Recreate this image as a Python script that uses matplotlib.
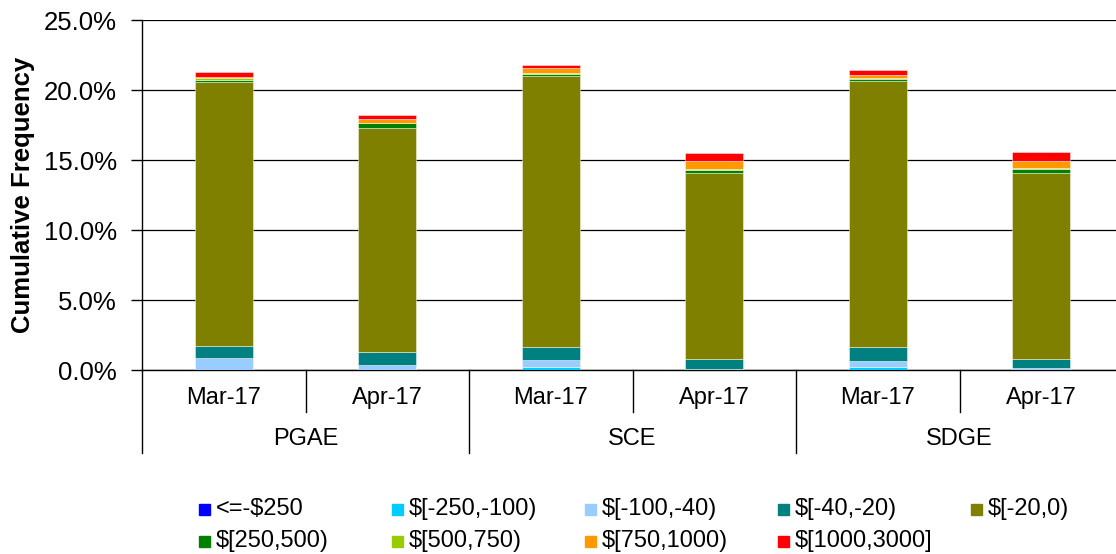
import matplotlib
matplotlib.use("Agg")
import matplotlib.pyplot as plt
from matplotlib.patches import Rectangle
from matplotlib.ticker import FuncFormatter

plt.rcParams['font.family'] = ['Liberation Sans', 'DejaVu Sans']

# categories
groups = ["PGAE", "SCE", "SDGE"]
months = ["Mar-17", "Apr-17"]
bins = ["<=-$250", "$[-250,-100)", "$[-100,-40)", "$[-40,-20)", "$[-20,0)",
        "$[250,500)", "$[500,750)", "$[750,1000)", "$[1000,3000]"]
colors = ["#0000FF", "#00CCFF", "#99CCFF", "#008080", "#808000",
          "#008000", "#99CC00", "#FF9900", "#FF0000"]

# frequency (%) per bin, one value per bar: PGAE Mar, PGAE Apr, SCE Mar, SCE Apr, SDGE Mar, SDGE Apr
le_250 = [0.00, 0.00, 0.00, 0.00, 0.00, 0.00]
m250_100 = [0.02, 0.00, 0.25, 0.00, 0.25, 0.00]
m100_40 = [0.83, 0.36, 0.43, 0.05, 0.39, 0.17]
m40_20 = [0.86, 0.90, 0.98, 0.71, 1.02, 0.59]
m20_0 = [18.86, 16.00, 19.34, 13.29, 18.96, 13.29]
p250_500 = [0.12, 0.36, 0.17, 0.26, 0.19, 0.33]
p500_750 = [0.15, 0.04, 0.08, 0.02, 0.08, 0.02]
p750_1000 = [0.12, 0.26, 0.35, 0.62, 0.16, 0.52]
p1000_3000 = [0.31, 0.33, 0.19, 0.55, 0.38, 0.62]

series = [le_250, m250_100, m100_40, m40_20, m20_0,
          p250_500, p500_750, p750_1000, p1000_3000]

fig = plt.figure(figsize=(11.16, 5.54), dpi=100)
# the plot area runs a little past the right edge of the picture, as in the original
ax = fig.add_axes([142/1116, 184/554, 981/1116, 350/554])

x = list(range(len(groups) * len(months)))
bottom = [0.0] * len(x)
for vals, col in zip(series, colors):
    ax.bar(x, vals, width=0.355, bottom=bottom, color=col,
           edgecolor=(1, 1, 1, 0.45), linewidth=0.7, zorder=3)
    bottom = [b + v for b, v in zip(bottom, vals)]

ax.set_xlim(-0.5, len(x) - 0.5)
ax.set_ylim(0, 25)
ax.set_yticks([0, 5, 10, 15, 20, 25])
ax.yaxis.set_major_formatter(FuncFormatter(lambda v, p: "%.1f%%" % v))
ax.tick_params(axis='y', direction='out', length=8, width=1, pad=10, labelsize=18.5)
ax.set_xticks([])
ax.grid(axis='y', color='black', linewidth=0.9, zorder=0)
ax.set_axisbelow(True)
for s in ['top', 'right']:
    ax.spines[s].set_visible(False)
ax.spines['left'].set_linewidth(1)
ax.spines['bottom'].set_linewidth(1)

ax.set_ylabel("Cumulative Frequency", fontsize=18.5, fontweight='bold')
ax.yaxis.set_label_coords(-107 / 981, 0.5)

# category axis labels and separators
tr = ax.get_xaxis_transform()
for i, xi in enumerate(x):
    ax.text(xi, -0.08, months[i % len(months)], transform=tr, ha='center', va='center', fontsize=17)
for g, name in enumerate(groups):
    ax.text(g * 2 + 0.5, -0.197, name, transform=tr, ha='center', va='center', fontsize=17)
for g in range(len(groups) + 1):
    ax.plot([g * 2 - 0.5] * 2, [0, -0.237], transform=tr, color='black', lw=1, clip_on=False)
for g in range(len(groups)):
    ax.plot([g * 2 + 0.5] * 2, [0, -0.119], transform=tr, color='black', lw=1, clip_on=False)

# legend, laid out like the original (5 per row, equal spacing)
for i, (lab, col) in enumerate(zip(bins, colors)):
    row, c = divmod(i, 5)
    px = 199 + c * 193
    py = 509 + row * 32
    fig.add_artist(Rectangle((px / 1116, (554 - py - 5.5) / 554), 11 / 1116, 11 / 554,
                             transform=fig.transFigure, color=col))
    fig.text((px + 17) / 1116, (554 - py) / 554, lab, ha='left', va='center', fontsize=17)

fig.savefig("out.png", dpi=100)
